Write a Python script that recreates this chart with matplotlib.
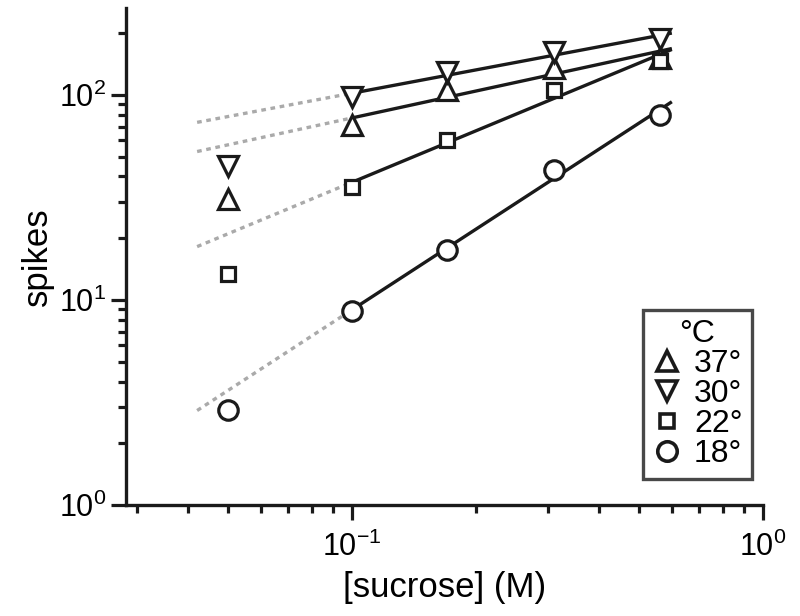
import numpy as np
import matplotlib
matplotlib.use("Agg")
import matplotlib.pyplot as plt
from matplotlib.lines import Line2D
from matplotlib.ticker import LogLocator, FixedLocator, NullFormatter

plt.rcParams['font.family'] = ['Liberation Sans', 'DejaVu Sans']
plt.rcParams['mathtext.fontset'] = 'custom'
plt.rcParams['mathtext.rm'] = 'Liberation Sans'
plt.rcParams['mathtext.default'] = 'regular'

# concentrations (M)
sucrose = np.array([0.05, 0.1, 0.17, 0.31, 0.56])

# spikes per temperature
temps = ["37°", "30°", "22°", "18°"]
spikes_37 = [31, 71, 106, 135, 152]
spikes_30 = [45, 98, 129, 162, 188]
spikes_22 = [13.4, 35.5, 60, 106, 146]
spikes_18 = [2.9, 8.8, 17.5, 43, 80]
markers = ["^", "v", "s", "o"]
msizes = [14, 14, 10.5, 14]
series = [spikes_37, spikes_30, spikes_22, spikes_18]

fig = plt.figure(figsize=(8.0, 6.16), dpi=100)
ax = fig.add_axes([0.1575, 0.18, 0.7963, 0.807])

x_solid = np.logspace(np.log10(0.1), np.log10(0.6), 50)
x_dot = np.logspace(np.log10(0.042), np.log10(0.1), 20)

for ys, m, ms in zip(series, markers, msizes):
    ys = np.array(ys, dtype=float)
    # power-law fit on the points from 0.1 M upward
    p = np.polyfit(np.log10(sucrose[1:]), np.log10(ys[1:]), 1)
    ax.plot(x_dot, 10 ** np.polyval(p, np.log10(x_dot)), color="#aaaaaa",
            lw=2.4, linestyle=(0, (1.4, 1.4)), zorder=1)
    ax.plot(x_solid, 10 ** np.polyval(p, np.log10(x_solid)), color="#1a1a1a",
            lw=2.4, zorder=2, solid_capstyle="butt")
    ax.plot(sucrose, ys, linestyle="none", marker=m, ms=ms, mfc="white",
            mec="#1a1a1a", mew=2.3, zorder=3)

ax.set_xscale("log")
ax.set_yscale("log")
ax.set_xlim(0.0282, 1.0)
ax.set_ylim(1.0, 265)

for s in ["top", "right"]:
    ax.spines[s].set_visible(False)
for s in ["left", "bottom"]:
    ax.spines[s].set_linewidth(2.4)
    ax.spines[s].set_color("#1a1a1a")

ax.xaxis.set_major_locator(FixedLocator([0.1, 1.0]))
ax.xaxis.set_minor_locator(LogLocator(base=10, subs=np.arange(2, 10)))
ax.yaxis.set_major_locator(FixedLocator([1, 10, 100]))
ax.yaxis.set_minor_locator(LogLocator(base=10, subs=np.arange(2, 10)))
ax.xaxis.set_minor_formatter(NullFormatter())
ax.yaxis.set_minor_formatter(NullFormatter())
ax.set_xticklabels([r"$10^{-1}$", r"$10^{0}$"])
ax.set_yticklabels([r"$10^{0}$", r"$10^{1}$", r"$10^{2}$"])

ax.tick_params(which="major", direction="out", length=11, width=2.3,
               labelsize=22, color="#1a1a1a", pad=3)
ax.tick_params(which="minor", direction="out", length=6, width=2.3,
               color="#1a1a1a")
ax.tick_params(axis="x", which="major", pad=8)

ax.set_xlabel("[sucrose] (M)", fontsize=25, labelpad=6)
ax.set_ylabel("spikes", fontsize=25, labelpad=4)

handles = [Line2D([], [], linestyle="none", marker=m, ms=ms, mfc="white",
                  mec="#1a1a1a", mew=2.6) for m, ms in zip(markers, msizes)]
leg = ax.legend(handles, temps, title="°C", loc="lower right",
                bbox_to_anchor=(752 / 800, (616 - 479) / 616),
                bbox_transform=fig.transFigure, fontsize=23, title_fontsize=23,
                frameon=True, fancybox=False, handlelength=0.9,
                handletextpad=0.4, labelspacing=0.0, borderpad=0.3,
                borderaxespad=0)
leg.get_frame().set_edgecolor("#1a1a1a")
leg.get_frame().set_linewidth(2.4)

fig.savefig("out.png", dpi=100)
